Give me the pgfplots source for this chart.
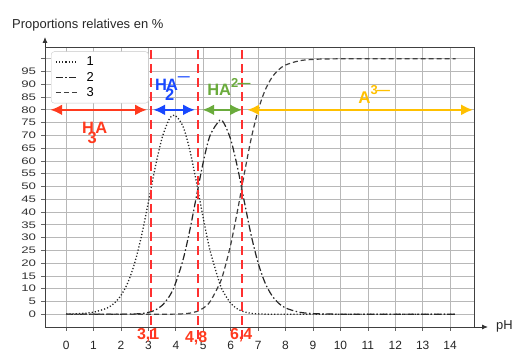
\documentclass[border=0pt]{standalone}
\usepackage{pgfplots}
\pgfplotsset{compat=1.18}
\usepackage{pgfplotstable}
\usepackage{fontspec}
\setmainfont{Liberation Sans}
\usetikzlibrary{arrows.meta}
\definecolor{cred}{HTML}{FF3A1E}
\definecolor{cvline}{HTML}{FF3030}
\definecolor{cblue}{HTML}{1848FF}
\definecolor{cgreen}{HTML}{6AAB3C}
\definecolor{cgold}{HTML}{FFC000}
\pgfplotstableread{
pH f1 f2 f3
0 0.08 0 0
0.5 0.25 0 0
1 0.79 0 0
1.5 2.45 0 0
1.75 4.28 0.01 0
2 7.36 0.01 0
2.25 12.37 0.03 0
2.5 20.06 0.10 0
2.75 30.79 0.27 0
3 43.96 0.70 0
3.25 57.60 1.62 0
3.5 69.05 3.46 0
3.75 76.15 6.79 0.02
3.95 77.94 11.01 0.04
4.25 73.82 20.81 0.15
4.5 64.63 32.39 0.41
4.75 51.72 46.09 1.03
5 37.59 59.57 2.37
5.25 24.84 70.02 4.96
5.6 12.03 75.90 12.03
5.75 8.40 74.83 16.75
6 4.32 68.43 27.24
6.25 2.04 57.36 40.61
6.5 0.88 43.88 55.24
6.75 0.35 30.77 68.88
7 0.13 20.05 79.82
7.25 0.04 12.37 87.58
7.5 0.02 7.36 92.63
7.75 0.01 4.28 95.72
8 0 2.45 97.55
8.5 0 0.79 99.21
9 0 0.25 99.75
9.5 0 0.08 99.92
10 0 0.03 99.97
11 0 0 100
12 0 0 100
13 0 0 100
14.2 0 0 100
}\datatable
\begin{document}
\begin{tikzpicture}
\begin{axis}[
  scale only axis, width=429bp, height=280bp,
  xmin=-0.77, xmax=14.87, ymin=-5, ymax=104.6,
  clip=false,
  axis line style={draw=black!75, line width=0.9bp},
  xtick={0,1,...,14},
  ytick={0,5,...,100},
  yticklabels={0,5,10,15,20,25,30,35,40,45,50,55,60,65,70,75,80,85,90,95,{}},
  grid=major,
  grid style={draw=black!28, line width=0.7bp},
  tick align=outside, tick pos=left,
  major tick length=4bp,
  tick style={draw=black!60, line width=0.7bp},
  /pgf/number format/assume math mode=true,
  xticklabel style={font=\fontsize{12}{12}\selectfont, text=black!85, yshift=-7bp},
  yticklabel style={font=\fontsize{9.5}{10}\selectfont, text=black!80, xscale=1.4},
  legend style={at={(0.014,0.984)}, anchor=north west, draw=black!22,
    rounded corners=3bp, fill=white, font=\fontsize{13}{14}\selectfont,
    inner xsep=4bp, inner ysep=3bp, row sep=1bp},
  legend cell align=left,
  legend image code/.code={\draw[#1] (0bp,0bp) -- (22bp,0bp);},
]
\addplot[black!85, line width=1.3bp, dash pattern=on 1.2bp off 2bp, smooth] table[x=pH,y=f1] {\datatable};
\addlegendentry{\makebox[62bp][l]{\hspace{6bp}1}}
\addplot[black!85, line width=1.2bp, dash pattern=on 7bp off 2.5bp on 1.5bp off 2.5bp, smooth] table[x=pH,y=f2] {\datatable};
\addlegendentry{\makebox[62bp][l]{\hspace{6bp}2}}
\addplot[black!75, line width=1.2bp, dash pattern=on 5bp off 3bp, smooth] table[x=pH,y=f3] {\datatable};
\addlegendentry{\makebox[62bp][l]{\hspace{6bp}3}}

\addplot[forget plot, cvline, line width=2.2bp, dash pattern=on 9bp off 5bp] coordinates {(3.1,103.3) (3.1,-10.3)};
\addplot[forget plot, cvline, line width=2.2bp, dash pattern=on 9bp off 5bp] coordinates {(4.8,103.3) (4.8,-10.3)};
\addplot[forget plot, cvline, line width=2.2bp, dash pattern=on 9bp off 5bp] coordinates {(6.4,103.3) (6.4,-10.3)};

\draw[cred, line width=2.6bp, {Latex[length=12bp,width=11bp]}-{Latex[length=12bp,width=11bp]}] (axis cs:-0.58,80) -- (axis cs:2.95,80);
\draw[cblue, line width=2.6bp, {Latex[length=12bp,width=11bp]}-{Latex[length=12bp,width=11bp]}] (axis cs:3.17,80) -- (axis cs:4.70,80);
\draw[cgreen, line width=2.6bp, {Latex[length=12bp,width=11bp]}-{Latex[length=12bp,width=11bp]}] (axis cs:4.96,80) -- (axis cs:6.42,80);
\draw[cgold, line width=2.6bp, {Latex[length=12bp,width=11bp]}-{Latex[length=12bp,width=11bp]}] (axis cs:6.60,80) -- (axis cs:14.84,80);

\node[anchor=base west, inner sep=0, text=cred, font=\fontsize{16.5}{16.5}\selectfont\bfseries] at (axis cs:0.58,70.6) {H\kern-0.4em\raisebox{-0.6em}{3}\kern-0.08em A};
\node[anchor=base west, inner sep=0, text=cblue, font=\fontsize{16.5}{16.5}\selectfont\bfseries] at (axis cs:3.24,87.6) {H\kern-0.12em\raisebox{-0.6em}{2}\kern-0.5em A\raisebox{0.62em}{\fontsize{12}{12}\selectfont —}};
\node[anchor=base west, inner sep=0, text=cgreen, font=\fontsize{16.5}{16.5}\selectfont\bfseries] at (axis cs:5.14,85.7) {HA\raisebox{0.45em}{\fontsize{13}{13}\selectfont 2\kern-0.05em —}};
\node[anchor=base west, inner sep=0, text=cgold, font=\fontsize{17}{17}\selectfont\bfseries] at (axis cs:10.65,82.5) {A\raisebox{0.5em}{\fontsize{13}{13}\selectfont 3\kern-0.05em —}};

\node[text=cred, font=\fontsize{16}{16}\selectfont\bfseries, inner sep=0] at (axis cs:2.99,-8.2) {3,1};
\node[text=cred, font=\fontsize{16}{16}\selectfont\bfseries, inner sep=0] at (axis cs:4.74,-9.4) {4,8};
\node[text=cred, font=\fontsize{16}{16}\selectfont\bfseries, inner sep=0] at (axis cs:6.38,-8.2) {6,4};

\coordinate (SW) at (rel axis cs:0,0);
\coordinate (SE) at (rel axis cs:1,0);
\coordinate (NW) at (rel axis cs:0,1);
\coordinate (NE) at (rel axis cs:1,1);
\end{axis}
\draw[black!80, line width=0.9bp, -{Latex[length=6bp,width=5bp]}] (SE) -- ([xshift=14bp]SE);
\draw[black!80, line width=0.9bp, -{Latex[length=6bp,width=5bp]}] (NW) -- ([yshift=10bp]NW);
\node[anchor=west, inner sep=0, font=\fontsize{13}{13}\selectfont, text=black!85] at ([xshift=-33bp,yshift=22bp]NW) {Proportions relatives en \%};
\node[anchor=west, inner sep=0, font=\fontsize{13}{13}\selectfont, text=black!85] at ([xshift=22bp,yshift=1bp]SE) {pH};
\pgfresetboundingbox
\path[use as bounding box] ([xshift=-45bp,yshift=-36bp]SW) rectangle ([xshift=58bp,yshift=47bp]NE);
\end{tikzpicture}
\end{document}
